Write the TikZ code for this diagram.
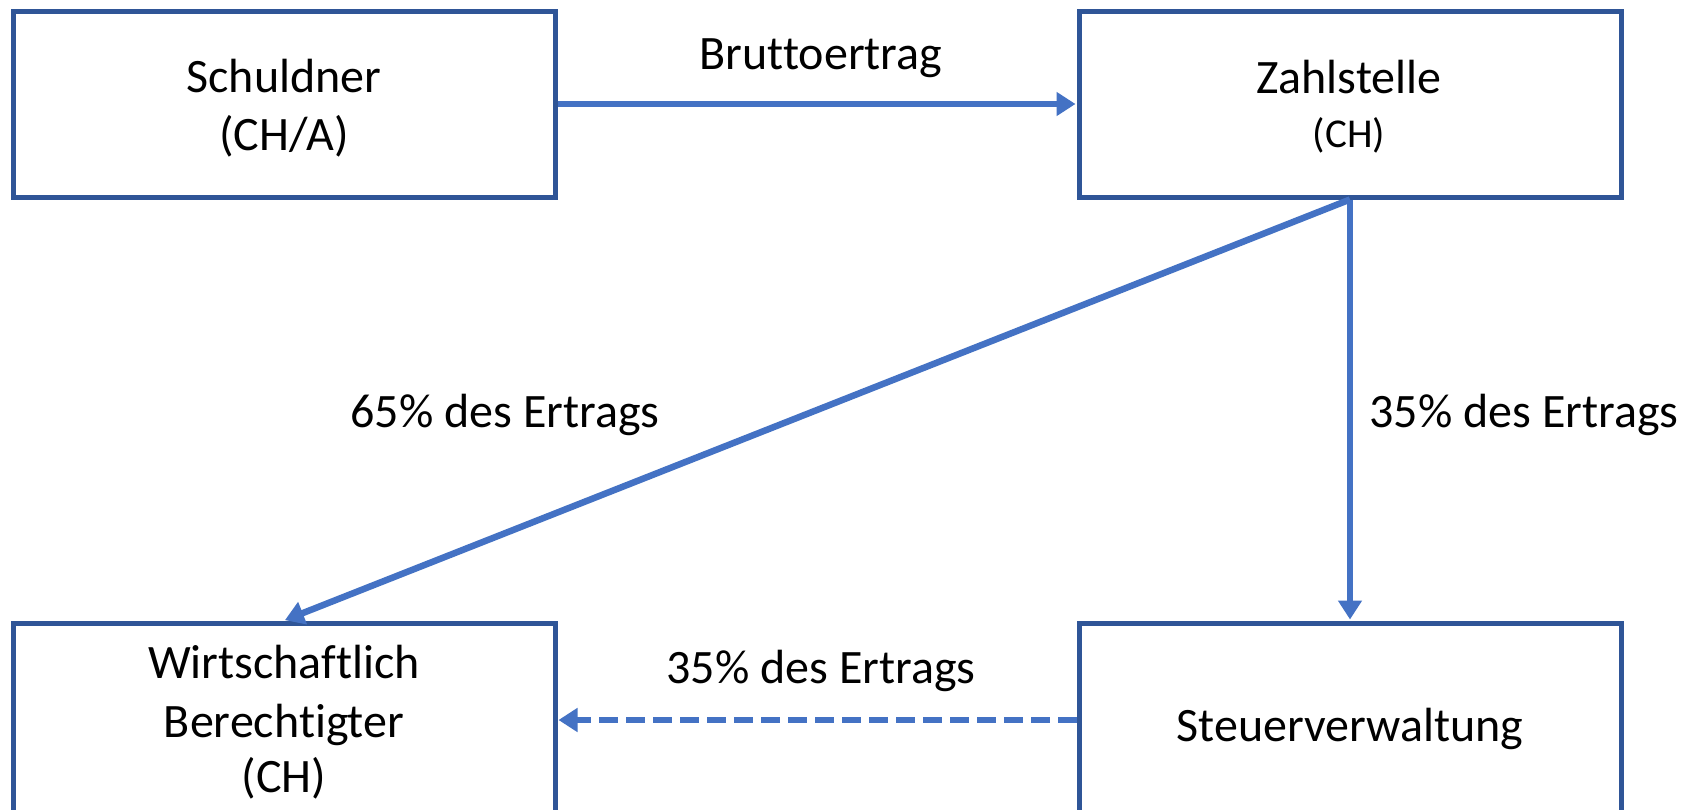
\documentclass[tikz,border=0pt]{standalone}
\usepackage{fontspec}
\setmainfont{Carlito}[Ligatures={NoCommon}]
\usetikzlibrary{arrows.meta}
\definecolor{boxblue}{HTML}{2F5597}
\definecolor{arrblue}{HTML}{4472C4}
\begin{document}
\begin{tikzpicture}[x=1pt,y=-1pt,
  box/.style={draw=boxblue,line width=5pt,minimum width=542pt,minimum height=186pt,inner sep=0pt},
  lowbox/.style={box,minimum height=194pt},
  txt/.style={anchor=base,font=\fontsize{48}{58}\selectfont,inner sep=0pt},
  smalltxt/.style={anchor=base,font=\fontsize{41}{50}\selectfont,inner sep=0pt},
  flow/.style={draw=arrblue,line width=6.5pt,-{Triangle[length=19pt,width=23pt]},shorten >=1pt},
  dflow/.style={flow,dash pattern=on 19pt off 8pt}]
\useasboundingbox (0,0) rectangle (1690,809);
\fill[white] (0,0) rectangle (1690,809);
% boxes
\node[box] (schuldner) at (284,104) {};
\node[box] (zahl) at (1350,104) {};
\node[lowbox] (wb) at (284,720) {};
\node[lowbox] (steuer) at (1350,720) {};
% box texts
\node[txt] (t1) at (284,92) {Schuldner};
\node[txt] (t2) at (284,150) {(CH/A)};
\node[txt] (t3) at (1349,93) {Zahlstelle};
\node[smalltxt] (t4) at (1349,147) {(CH)};
\node[txt] (t5) at (284,678) {Wirtschaftlich};
\node[txt] (t6) at (284,737) {Berechtigter};
\node[txt] (t7) at (284,792) {(CH)};
\node[txt] (t8) at (1350,741) {Steuerverwaltung};
% connectors
\draw[flow] (schuldner.east) -- (zahl.west);
\draw[flow] (zahl.south) -- (wb.north);
\draw[flow] (zahl.south) -- (steuer.north);
\draw[dflow] (steuer.west) -- (wb.east);
% labels
\node[txt] (l1) at (821,69) {Bruttoertrag};
\node[txt] (l2) at (505,427) {65\% des Ertrags};
\node[txt] (l3) at (1524,427) {35\% des Ertrags};
\node[txt] (l4) at (821,683) {35\% des Ertrags};
\end{tikzpicture}
\end{document}
